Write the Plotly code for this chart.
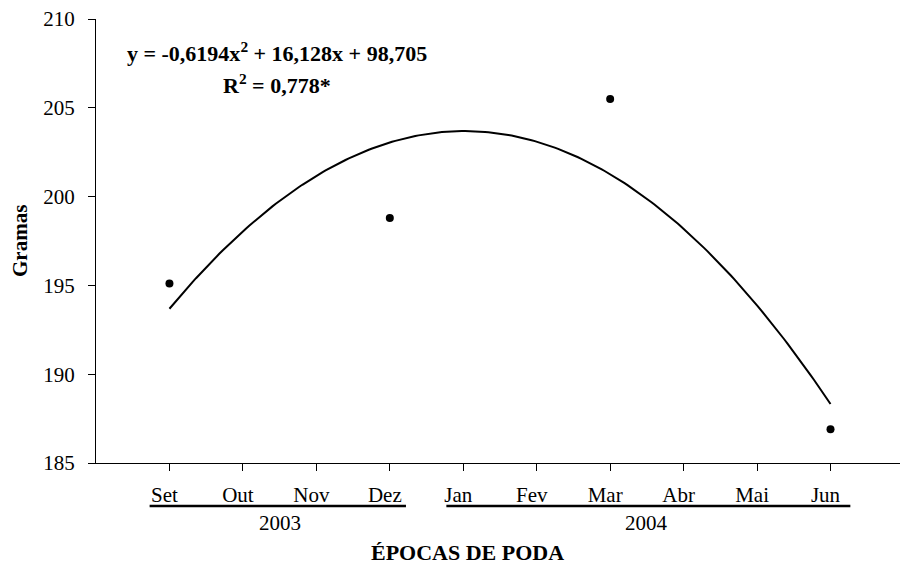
import numpy as np
import plotly.graph_objects as go

# Data
months = ["Set", "Out", "Nov", "Dez", "Jan", "Fev", "Mar", "Abr", "Mai", "Jun"]
month_x = [9, 10, 11, 12, 13, 14, 15, 16, 17, 18]
obs_x = [9, 12, 15, 18]
obs_y = [195.1, 198.8, 205.5, 186.9]
# trendline coefficients shown on the chart
coef_a, coef_b, coef_c = -0.6194, 16.128, 98.705
years = ["2003", "2004"]

FONT = "Liberation Serif"

xs = np.linspace(9, 18, 200)
ys = coef_a * xs**2 + coef_b * xs + coef_c

fig = go.Figure()
fig.add_trace(go.Scatter(x=xs, y=ys, mode="lines",
                         line=dict(color="black", width=2), showlegend=False,
                         hoverinfo="skip"))
fig.add_trace(go.Scatter(x=obs_x, y=obs_y, mode="markers",
                         marker=dict(color="black", size=8), showlegend=False))

H = 564
mt, mb, ml, mr = 19, 101, 96, 0
ph = H - mt - mb
pw = 900 - ml - mr

def py(pix):
    return (H - mb - pix) / ph

def px(pix):
    return (pix - ml) / pw

fig.update_layout(
    width=900, height=H,
    margin=dict(l=ml, r=mr, t=mt, b=mb),
    paper_bgcolor="white", plot_bgcolor="white",
    font=dict(family=FONT, size=21, color="black"),
    xaxis=dict(range=[8, 18.946], tickvals=month_x, ticktext=months,
               showgrid=False, zeroline=False, showline=True,
               linecolor="black", linewidth=1, ticks="outside", ticklen=7,
               tickcolor="black", tickwidth=1, ticklabelshift=-5,
               ticklabelstandoff=6,
               tickfont=dict(family=FONT, size=21, color="black")),
    yaxis=dict(range=[185, 210], tickvals=[185, 190, 195, 200, 205, 210],
               showgrid=False, zeroline=False, showline=True,
               linecolor="black", linewidth=1, ticks="outside", ticklen=7,
               tickcolor="black", tickwidth=1, ticklabelstandoff=9,
               tickfont=dict(family=FONT, size=21, color="black")),
)

# underlines for years
fig.add_shape(type="line", xref="x", yref="paper", x0=8.73, x1=12.22,
              y0=py(506), y1=py(506), line=dict(color="black", width=2.5))
fig.add_shape(type="line", xref="x", yref="paper", x0=12.77, x1=18.27,
              y0=py(506), y1=py(506), line=dict(color="black", width=2.5))

common = dict(showarrow=False, xanchor="center", yanchor="middle")

fig.add_annotation(x=10.5, y=py(523), xref="x", yref="paper", text=years[0],
                   font=dict(family=FONT, size=21), **common)
fig.add_annotation(x=15.5, y=py(523), xref="x", yref="paper", text=years[1],
                   font=dict(family=FONT, size=21), **common)

fig.add_annotation(x=px(467), y=py(552), xref="paper", yref="paper",
                   text="<b>ÉPOCAS DE PODA</b>",
                   font=dict(family=FONT, size=22), **common)
fig.add_annotation(x=px(20), y=py(241), xref="paper", yref="paper",
                   text="<b>Gramas</b>", textangle=-90,
                   font=dict(family=FONT, size=21), **common)

fig.add_annotation(x=px(277), y=py(52), xref="paper", yref="paper",
                   text="<b>y = -0,6194x<sup>2</sup> + 16,128x + 98,705</b>",
                   font=dict(family=FONT, size=22), **common)
fig.add_annotation(x=px(277), y=py(84), xref="paper", yref="paper",
                   text="<b>R<sup>2</sup> = 0,778*</b>",
                   font=dict(family=FONT, size=22), **common)

fig.write_html("out.html")
